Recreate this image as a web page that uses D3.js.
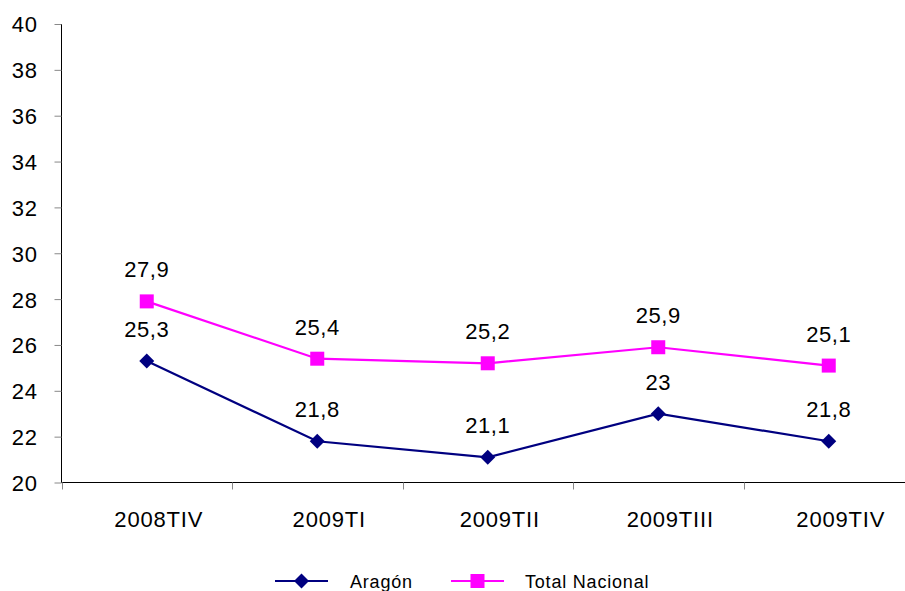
<!DOCTYPE html>
<html><head><meta charset="utf-8">
<script src="https://cdn.jsdelivr.net/npm/d3@7"></script>
<style>body{margin:0;background:#fff}svg{display:block}text{font-family:"Liberation Sans",Arial,sans-serif}</style>
</head><body>
<svg id="c" width="905" height="591"></svg>
<script>
const categories = ["2008TIV","2009TI","2009TII","2009TIII","2009TIV"];
const aragon = [25.3,21.8,21.1,23,21.8];
const nacional = [27.9,25.4,25.2,25.9,25.1];
const yTicks = [20,22,24,26,28,30,32,34,36,38,40];
const seriesNames = ["Aragón","Total Nacional"];
const colors = ["#000080","#FF00FF"];

const svg = d3.select("#c");
const x = d3.scaleBand().domain(categories).range([61.5, 914]);
const y = d3.scaleLinear().domain([20,40]).range([482.5, 24]);
const fmt = v => String(v).replace(".", ",");
const diamond = "M0,-7.5L7.5,0L0,7.5L-7.5,0Z";

// y axis
const ya = svg.append("g").attr("transform","translate(61.5,0)")
  .call(d3.axisLeft(y).tickValues(yTicks).tickSize(7).tickPadding(17).tickFormat(d=>d));
ya.select(".domain").attr("stroke","#000").attr("d","M0,24V482.5");
ya.selectAll(".tick line").attr("stroke","#888");
ya.selectAll("text").attr("font-size","22px").attr("letter-spacing","0.6px").attr("fill","#000").attr("dy","0.36em");

// x axis
const xa = svg.append("g").attr("transform","translate(0,482.5)")
  .call(d3.axisBottom(x).tickSize(0).tickPadding(29));
xa.select(".domain").attr("stroke","#000").attr("d","M61.5,0H905");
xa.selectAll("text").attr("font-size","22px").attr("letter-spacing","0.8px").attr("fill","#000").attr("dx","12");
const bounds = categories.map(c => x(c)).concat([x(categories[4]) + x.bandwidth()]);
xa.selectAll(".bt").data(bounds).enter().append("line")
  .attr("x1", d=>Math.round(d)+0.5).attr("x2", d=>Math.round(d)+0.5)
  .attr("y1",0).attr("y2",7).attr("stroke","#888");

const cx = c => x(c) + x.bandwidth()/2;
const series = [aragon, nacional];
series.forEach((vals, i) => {
  const line = d3.line().x((d,j)=>cx(categories[j])).y(d=>y(d));
  svg.append("path").datum(vals).attr("d", line).attr("fill","none")
    .attr("stroke", colors[i]).attr("stroke-width", 2.2);
  const g = svg.append("g");
  vals.forEach((v,j) => {
    const px = cx(categories[j]), py = y(v);
    if (i === 0) {
      g.append("path").attr("d", diamond).attr("fill", colors[i])
        .attr("transform", `translate(${px},${py})`);
    } else {
      g.append("rect").attr("x", px-7).attr("y", py-7).attr("width",14).attr("height",14).attr("fill", colors[i]);
    }
    g.append("text").attr("x", px).attr("y", py-24).attr("text-anchor","middle")
      .attr("font-size","22px").attr("letter-spacing","0.6px").attr("fill","#000").text(fmt(v));
  });
});

// legend
const leg = [{x0:275, tx:350},{x0:451, tx:525}];
seriesNames.forEach((n,i) => {
  const ly = 581;
  svg.append("line").attr("x1",leg[i].x0).attr("x2",leg[i].x0+53).attr("y1",ly).attr("y2",ly)
    .attr("stroke",colors[i]).attr("stroke-width",2.2);
  const mx = leg[i].x0+26.5;
  if (i===0) svg.append("path").attr("d", diamond).attr("fill",colors[i]).attr("transform",`translate(${mx},${ly})`);
  else svg.append("rect").attr("x",mx-7).attr("y",ly-7).attr("width",14).attr("height",14).attr("fill",colors[i]);
  svg.append("text").attr("x",leg[i].tx).attr("y",ly+7).attr("font-size","18px").attr("letter-spacing","0.8px").attr("fill","#000").text(n);
});
</script>
</body></html>
